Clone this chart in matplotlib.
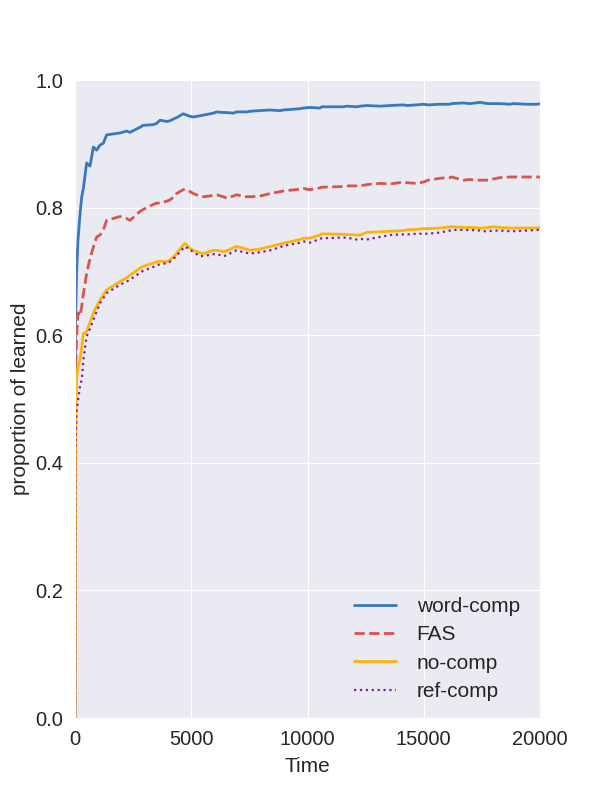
import matplotlib
matplotlib.use("Agg")
import matplotlib.pyplot as plt
import seaborn as sns

sns.set_style("darkgrid")
plt.rcParams['font.family'] = ['Liberation Sans', 'DejaVu Sans']

# time points (shared across series)
t = [0, 20, 70, 130, 215, 290, 360, 430, 500, 645, 790, 930, 1075, 1220, 1360,
     1935, 2220, 2365, 2800, 2930, 3370, 3510, 3660, 3940, 4080, 4300, 4370,
     4650, 4730, 4950, 5090, 5380, 5520, 5950, 6100, 6380, 6520, 6800, 6950,
     7380, 7530, 7950, 8390, 8820, 8960, 9680, 9820, 10100, 10540, 10610,
     11540, 11680, 12115, 12260, 12545, 13120, 13550, 14120, 14260, 14690,
     14980, 15190, 15700, 16130, 16200, 16700, 16990, 17420, 17570, 17780,
     18000, 18280, 18710, 18850, 19430, 19900, 20000]

word_comp = [0.0, 0.62, 0.70, 0.75, 0.79, 0.817, 0.83, 0.85, 0.87, 0.865, 0.895,
             0.89, 0.898, 0.901, 0.914, 0.917, 0.92, 0.918, 0.926, 0.929, 0.930,
             0.932, 0.937, 0.935, 0.936, 0.940, 0.941, 0.947, 0.946, 0.943, 0.942,
             0.944, 0.945, 0.948, 0.950, 0.949, 0.949, 0.948, 0.950, 0.950, 0.951,
             0.952, 0.953, 0.952, 0.953, 0.955, 0.956, 0.957, 0.956, 0.958, 0.958,
             0.959, 0.958, 0.959, 0.960, 0.959, 0.960, 0.961, 0.960, 0.961, 0.962,
             0.961, 0.962, 0.962, 0.963, 0.964, 0.963, 0.965, 0.964, 0.963, 0.963,
             0.963, 0.962, 0.963, 0.962, 0.962, 0.963]

fas = [0.0, 0.53, 0.60, 0.635, 0.63, 0.645, 0.665, 0.68, 0.697, 0.72, 0.738,
       0.754, 0.757, 0.765, 0.78, 0.786, 0.783, 0.78, 0.794, 0.797, 0.805, 0.807,
       0.807, 0.81, 0.812, 0.818, 0.822, 0.828, 0.829, 0.825, 0.822, 0.818, 0.817,
       0.819, 0.82, 0.817, 0.815, 0.818, 0.82, 0.817, 0.817, 0.818, 0.822, 0.825,
       0.826, 0.829, 0.830, 0.828, 0.831, 0.832, 0.833, 0.834, 0.834, 0.834, 0.836,
       0.838, 0.837, 0.840, 0.839, 0.838, 0.840, 0.843, 0.846, 0.847, 0.848, 0.843,
       0.844, 0.843, 0.843, 0.843, 0.845, 0.847, 0.848, 0.848, 0.848, 0.848, 0.848]

no_comp = [0.0, 0.45, 0.535, 0.55, 0.561, 0.58, 0.603, 0.603, 0.606, 0.62, 0.635,
           0.645, 0.655, 0.663, 0.671, 0.684, 0.69, 0.694, 0.705, 0.708, 0.713,
           0.715, 0.716, 0.715, 0.718, 0.725, 0.728, 0.741, 0.744, 0.736, 0.733,
           0.729, 0.728, 0.733, 0.733, 0.731, 0.732, 0.737, 0.739, 0.735, 0.733,
           0.735, 0.739, 0.743, 0.744, 0.750, 0.752, 0.752, 0.757, 0.759, 0.758,
           0.758, 0.757, 0.757, 0.761, 0.762, 0.763, 0.764, 0.765, 0.766, 0.767,
           0.767, 0.768, 0.770, 0.770, 0.769, 0.769, 0.768, 0.768, 0.769, 0.770,
           0.769, 0.768, 0.768, 0.768, 0.768, 0.769]

ref_comp = [0.0, 0.42, 0.48, 0.498, 0.52, 0.53, 0.56, 0.58, 0.598, 0.61, 0.624,
            0.637, 0.65, 0.658, 0.666, 0.679, 0.684, 0.687, 0.698, 0.701, 0.707,
            0.710, 0.711, 0.713, 0.715, 0.722, 0.725, 0.736, 0.739, 0.734, 0.730,
            0.724, 0.724, 0.727, 0.727, 0.724, 0.725, 0.731, 0.733, 0.729, 0.728,
            0.730, 0.733, 0.738, 0.740, 0.745, 0.747, 0.745, 0.751, 0.752, 0.753,
            0.753, 0.750, 0.751, 0.750, 0.754, 0.757, 0.758, 0.758, 0.759, 0.759,
            0.759, 0.761, 0.764, 0.765, 0.765, 0.765, 0.764, 0.763, 0.763, 0.764,
            0.764, 0.763, 0.763, 0.764, 0.765, 0.765]

labels = ["word-comp", "FAS", "no-comp", "ref-comp"]
colors = ["#3778bf", "#d9544d", "#feb308", "#7e1e9c"]

fig = plt.figure(figsize=(6, 8), dpi=100)
ax = fig.add_axes([0.125, 0.1025, 0.775, 0.7975])

ax.plot(t, word_comp, color=colors[0], linestyle='-', linewidth=2.0, label=labels[0])
ax.plot(t, fas, color=colors[1], linestyle='--', linewidth=2.0, label=labels[1])
ax.plot(t, no_comp, color=colors[2], linestyle='-', linewidth=2.0, label=labels[2])
ax.plot(t, ref_comp, color=colors[3], linestyle=':', linewidth=1.6, label=labels[3])

ax.set_xlim(0, 20000)
ax.set_ylim(0, 1.0)
ax.set_xticks([0, 5000, 10000, 15000, 20000])
ax.set_yticks([0.0, 0.2, 0.4, 0.6, 0.8, 1.0])
ax.tick_params(labelsize=14.5, colors='#262626', pad=5)
ax.set_xlabel("Time", fontsize=15, color='#262626', labelpad=6)
ax.set_ylabel("proportion of learned", fontsize=15, color='#262626', labelpad=4)
ax.legend(loc='lower right', fontsize=15, frameon=False, labelspacing=0.45,
          handletextpad=1.0, bbox_to_anchor=(0.997, -0.003))

fig.savefig("out.png", dpi=100)
